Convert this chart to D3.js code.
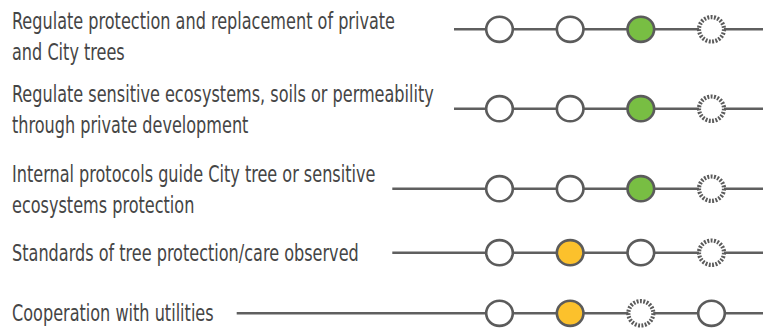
<!DOCTYPE html>
<html>
<head>
<meta charset="utf-8">
<script src="https://cdn.jsdelivr.net/npm/d3@7"></script>
<style>
  html, body { margin: 0; padding: 0; background: #ffffff; }
  svg { display: block; }
</style>
</head>
<body>
<div id="chart"></div>
<script>
// ---- data ----
const categories = [
  ["Regulate protection and replacement of private", "and City trees"],
  ["Regulate sensitive ecosystems, soils or permeability", "through private development"],
  ["Internal protocols guide City tree or sensitive", "ecosystems protection"],
  ["Standards of tree protection/care observed"],
  ["Cooperation with utilities"]
];
const stages = ["Stage 1", "Stage 2", "Stage 3", "Stage 4"];
// status of each stage per row: "empty", "green", "yellow", "dashed"
const statusRows = [
  ["empty", "empty", "green", "dashed"],
  ["empty", "empty", "green", "dashed"],
  ["empty", "empty", "green", "dashed"],
  ["empty", "yellow", "empty", "dashed"],
  ["empty", "yellow", "dashed", "empty"]
];

// ---- layout ----
const W = 765, H = 329;
const rowY = [29.3, 108.7, 188.7, 252.7, 313.3];
const textBaseOffset = [-0.5, -6.5, -6.5, 8.5, 7.5];
const lineStart = [454, 454, 392.3, 392.3, 236.7];
const lineEnd = 763;
const textTargets = [385, 420, 362, 346, 205]; // target widths of first lines
const lineHeight = 31;

const fills = { empty: "#ffffff", green: "#78be43", yellow: "#fcc12c", dashed: "#ffffff" };
const strokeCol = "#5b5b5b";
const textCol = "#454545";

const svg = d3.select("#chart").append("svg")
  .attr("width", W).attr("height", H);

const x = d3.scalePoint().domain(stages).range([499.5, 711.5]);

// labels
const labelG = svg.append("g").attr("class", "labels");
const texts = labelG.selectAll("text").data(categories).join("text")
  .attr("font-family", "'Liberation Sans Narrow', 'DejaVu Sans Condensed', 'Roboto Condensed', sans-serif")
  .attr("font-size", 22.5)
  .attr("fill", textCol)
  .attr("transform", (d, i) => `translate(12,${rowY[i] + textBaseOffset[i]})`);
texts.each(function(lines) {
  d3.select(this).selectAll("tspan").data(lines).join("tspan")
    .attr("x", 0).attr("y", (d, j) => j * lineHeight).text(d => d);
});
// horizontal condensing to match reference widths
let measured = 0, target = 0;
texts.each(function(d, i) {
  const t = d3.select(this).select("tspan").node();
  measured += t.getComputedTextLength();
  target += textTargets[i];
});
const sx = target / measured;
texts.attr("transform", (d, i) => `translate(12,${rowY[i] + textBaseOffset[i]}) scale(${sx},1)`);

// rows
const rows = svg.selectAll("g.row").data(statusRows).join("g")
  .attr("class", "row")
  .attr("transform", (d, i) => `translate(0,${rowY[i]})`);

rows.append("line")
  .attr("x1", (d, i) => lineStart[i]).attr("x2", lineEnd)
  .attr("y1", 0).attr("y2", 0)
  .attr("stroke", "#5f5f5f").attr("stroke-width", 2.6);

rows.selectAll("ellipse").data(d => d.map((s, k) => ({ s, stage: stages[k] }))).join("ellipse")
  .attr("cx", d => x(d.stage)).attr("cy", 0)
  .attr("rx", d => d.s === "dashed" ? 12.5 : 13.3)
  .attr("ry", d => d.s === "dashed" ? 12.2 : 12.6)
  .attr("fill", d => fills[d.s])
  .attr("stroke", strokeCol)
  .attr("stroke-width", d => d.s === "dashed" ? 4.2 : 2.6)
  .attr("stroke-dasharray", d => d.s === "dashed" ? "1.9 1.45" : null);
</script>
</body>
</html>
